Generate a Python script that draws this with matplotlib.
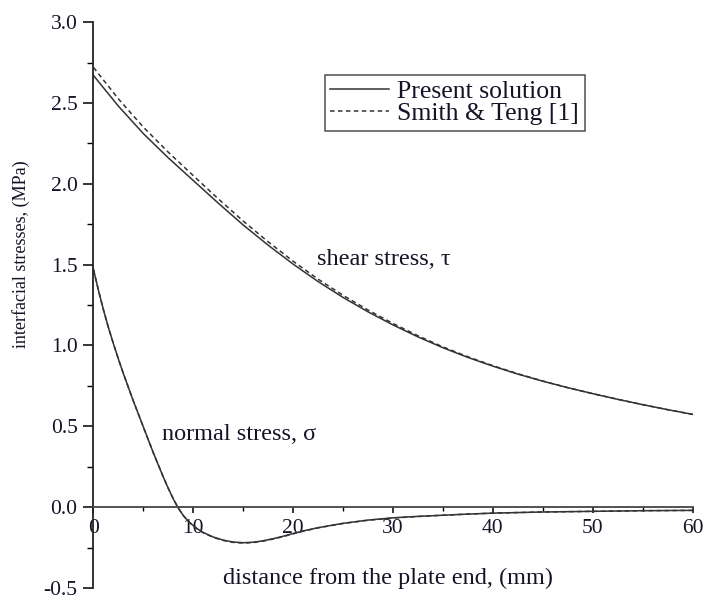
import numpy as np
import matplotlib
matplotlib.use("Agg")
import matplotlib.pyplot as plt
from matplotlib.ticker import MultipleLocator, FormatStrFormatter

plt.rcParams["font.family"] = ["Liberation Serif", "DejaVu Serif"]

# --- data ---
x_shear = [0, 2.5, 5, 7.5, 10, 12.5, 15, 17.5, 20, 22.5, 25, 27.5, 30,
           32.5, 35, 37.5, 40, 42.5, 45, 47.5, 50, 52.5, 55, 57.5, 60]
shear_present = [2.67, 2.48, 2.31, 2.16, 2.02, 1.88, 1.745, 1.62, 1.503,
                 1.395, 1.297, 1.208, 1.127, 1.053, 0.986, 0.926, 0.872,
                 0.823, 0.779, 0.739, 0.702, 0.667, 0.634, 0.603, 0.574]
shear_smith = [2.72, 2.525, 2.35, 2.195, 2.05, 1.907, 1.769, 1.641, 1.521,
               1.41, 1.31, 1.219, 1.136, 1.06, 0.991, 0.93, 0.875,
               0.825, 0.78, 0.739, 0.702, 0.667, 0.634, 0.603, 0.574]

x_normal = [0, 0.5, 1, 1.5, 2, 2.5, 3, 3.5, 4, 4.5, 5, 5.5, 6, 6.5, 7, 7.5,
            8, 8.5, 9, 9.5, 10, 10.5, 11, 12, 13, 14, 15, 16, 17, 18, 19, 20,
            21, 22.5, 25, 27.5, 30, 32.5, 35, 37.5, 40, 45, 50, 55, 60]
normal_present = [1.47, 1.34, 1.22, 1.11, 1.01, 0.915, 0.825, 0.74, 0.655,
                  0.575, 0.495, 0.415, 0.335, 0.26, 0.185, 0.115, 0.05,
                  -0.007, -0.052, -0.087, -0.115, -0.138, -0.157, -0.185,
                  -0.204, -0.216, -0.22, -0.217, -0.208, -0.195, -0.18,
                  -0.163, -0.147, -0.127, -0.10, -0.08, -0.066, -0.057,
                  -0.05, -0.043, -0.037, -0.03, -0.026, -0.022, -0.02]
normal_smith = [1.47, 1.34, 1.22, 1.11, 1.01, 0.915, 0.825, 0.74, 0.655,
                0.575, 0.495, 0.415, 0.335, 0.26, 0.185, 0.115, 0.05,
                -0.007, -0.053, -0.088, -0.117, -0.14, -0.159, -0.187,
                -0.206, -0.218, -0.222, -0.219, -0.21, -0.197, -0.182,
                -0.165, -0.149, -0.128, -0.101, -0.081, -0.067, -0.058,
                -0.05, -0.043, -0.037, -0.03, -0.026, -0.022, -0.02]

labels = ["Present solution", "Smith & Teng [1]"]

fig = plt.figure(figsize=(7.04, 5.95), dpi=100)
ax = fig.add_axes([0.1328, 0.0118, 0.851, 0.951])

line_col = "#333333"
dash = (0, (3, 2.2))
ax.plot(x_shear, shear_present, color=line_col, lw=1.1, label=labels[0])
ax.plot(x_shear, shear_smith, color=line_col, lw=1.1, ls=dash, label=labels[1])
ax.plot(x_normal, normal_present, color=line_col, lw=1.1)
ax.plot(x_normal, normal_smith, color=line_col, lw=1.1, ls=dash)

ax.set_xlim(0, 60)
ax.set_ylim(-0.5, 3.0)

# spines: left plus x axis through zero
for s in ["top", "right"]:
    ax.spines[s].set_visible(False)
ax.spines["bottom"].set_position(("data", 0))
ax.spines["left"].set_linewidth(1.3)
ax.spines["bottom"].set_linewidth(1.3)
ax.spines["left"].set_color("#222222")
ax.spines["bottom"].set_color("#444444")

ax.xaxis.set_major_locator(MultipleLocator(10))
ax.xaxis.set_minor_locator(MultipleLocator(5))
ax.yaxis.set_major_locator(MultipleLocator(0.5))
ax.yaxis.set_minor_locator(MultipleLocator(0.25))
ax.yaxis.set_major_formatter(FormatStrFormatter("%.1f"))

txt_col = "#141428"
ax.tick_params(axis="y", which="major", direction="out", length=7.5,
               width=1.1, pad=4, labelsize=15.5, labelcolor=txt_col)
ax.tick_params(axis="y", which="minor", direction="out", length=4, width=1.0)
ax.tick_params(axis="x", which="major", direction="out", length=4.5,
               width=1.1, pad=4, labelsize=15.5, labelcolor=txt_col)
ax.tick_params(axis="x", which="minor", direction="out", length=3, width=1.0)

ax.set_ylabel("interfacial stresses, (MPa)", fontsize=13, color=txt_col)
ax.yaxis.set_label_coords(-0.106, 0.59)

ax.text(29.5, -0.44, "distance from the plate end, (mm)", fontsize=17.5,
        color=txt_col, ha="center", va="center")
ax.text(22.4, 1.53, "shear stress, τ", fontsize=17.5, color=txt_col,
        ha="left", va="center")
ax.text(6.9, 0.45, "normal stress, σ", fontsize=17.5, color=txt_col,
        ha="left", va="center")

leg = ax.legend(loc="upper left", bbox_to_anchor=(0.386, 0.907),
                borderaxespad=0, fontsize=18.5, frameon=True, fancybox=False,
                handlelength=2.3, handletextpad=0.3, borderpad=0.22,
                labelspacing=-0.05, labelcolor=txt_col)
leg.get_frame().set_edgecolor("#222222")
leg.get_frame().set_linewidth(1.1)

fig.savefig("out.png", dpi=100)
